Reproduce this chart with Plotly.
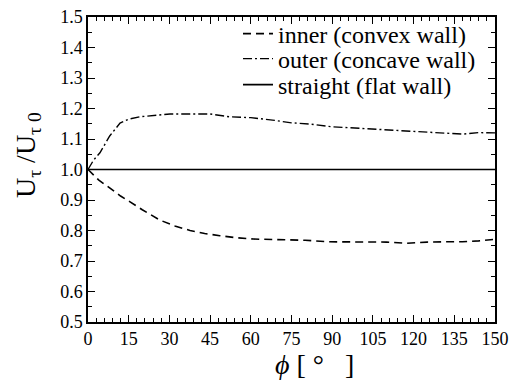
import plotly.graph_objects as go

phi_outer = [0, 2, 4.4, 8, 11.8, 15, 19.2, 25, 30.2, 38, 45, 52, 60, 68, 75, 82, 90, 100, 110, 120, 130, 138, 144, 150]
u_outer = [1.0, 1.03, 1.055, 1.11, 1.152, 1.165, 1.173, 1.178, 1.182, 1.182, 1.182, 1.173, 1.17, 1.162, 1.153, 1.149, 1.14, 1.135, 1.13, 1.127, 1.12, 1.116, 1.121, 1.12]

phi_inner = [0, 4, 8.1, 12, 15.5, 20, 26.5, 32, 37.6, 43, 48.6, 55, 61, 70, 80, 89, 100, 110, 117.4, 125, 132, 138, 144, 150]
u_inner = [1.0, 0.965, 0.939, 0.913, 0.894, 0.868, 0.834, 0.815, 0.80, 0.79, 0.783, 0.776, 0.772, 0.77, 0.768, 0.763, 0.763, 0.762, 0.758, 0.762, 0.763, 0.763, 0.766, 0.771]

phi_straight = [0, 150]
u_straight = [1.0, 1.0]

names = ["inner (convex wall)", "outer (concave wall)", "straight (flat wall)"]
x_ticks = list(range(0, 151, 15))
y_ticks = [round(0.5 + 0.1 * i, 1) for i in range(11)]
y_ticklabels = ["%.1f" % v for v in y_ticks]

font = "Liberation Serif"

fig = go.Figure()
fig.add_trace(go.Scatter(x=phi_inner, y=u_inner, mode="lines", name=names[0], legend="legend",
                         line=dict(color="black", width=1.6, dash="8px,5px")))
fig.add_trace(go.Scatter(x=phi_outer, y=u_outer, mode="lines", name=names[1], legend="legend2",
                         line=dict(color="black", width=1.4, dash="9px,3px,2px,3px")))
fig.add_trace(go.Scatter(x=phi_straight, y=u_straight, mode="lines", name=names[2], legend="legend3",
                         line=dict(color="black", width=1.6)))

axis_common = dict(showline=True, linecolor="black", linewidth=1.5, mirror="allticks",
                   ticks="inside", ticklen=7, tickwidth=1.2, tickcolor="black",
                   showgrid=False, zeroline=False, automargin=False,
                   tickfont=dict(family=font, size=18, color="black"))

fig.update_xaxes(range=[0, 150], tickvals=x_ticks,
                 minor=dict(dtick=3, ticks="inside", ticklen=4, tickcolor="black", tickwidth=1),
                 **axis_common)
fig.update_yaxes(range=[0.5, 1.5], tickvals=y_ticks, ticktext=y_ticklabels,
                 minor=dict(dtick=0.05, ticks="inside", ticklen=4, tickcolor="black", tickwidth=1),
                 **axis_common)

W, H = 515, 382
L, R, T, B = 88, 20, 17, 60
pw, ph = W - L - R, H - T - B

def px_x(px):
    return (px - L) / pw

def px_y(py):
    return (H - B - py) / ph

leg_font = dict(family=font, size=24, color="black")
leg_common = dict(xanchor="left", yanchor="middle", bgcolor="rgba(0,0,0,0)", font=leg_font,
                  itemwidth=30, borderwidth=0)
fig.update_layout(
    width=W, height=H, margin=dict(l=L, r=R, t=T, b=B, autoexpand=False),
    plot_bgcolor="white", paper_bgcolor="white",
    font=dict(family=font, color="black"),
    showlegend=True,
    legend=dict(x=px_x(238), y=px_y(34), **leg_common),
    legend2=dict(x=px_x(238), y=px_y(59), **leg_common),
    legend3=dict(x=px_x(238), y=px_y(85), **leg_common),
    annotations=[
        dict(text="<i>\u03d5</i> [ °\u00a0\u00a0\u00a0]", xref="paper", yref="paper",
             x=px_x(314), y=px_y(364), xanchor="center", yanchor="middle", showarrow=False,
             font=dict(family=font, size=28, color="black")),
        dict(text="U<sub>τ</sub> /U<sub>τ 0</sub>", xref="paper", yref="paper", textangle=-90,
             x=px_x(27), y=px_y(155), xanchor="center", yanchor="middle", showarrow=False,
             font=dict(family=font, size=28, color="black")),
    ],
)

fig.write_html("out.html", config={"displayModeBar": False},
               post_script="document.body.style.margin='0';")
